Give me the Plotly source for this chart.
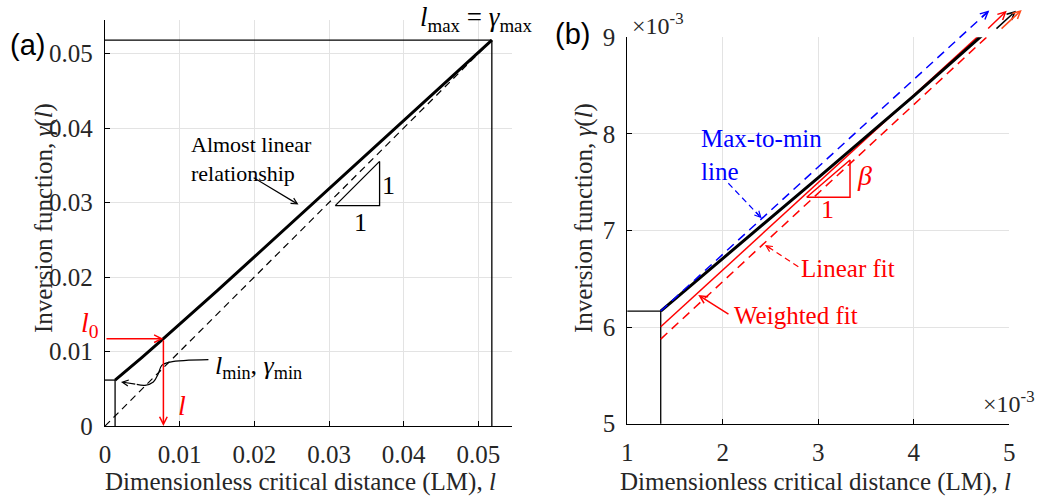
import numpy as np
import plotly.graph_objects as go

W, H = 1048, 497

# ---------------- data (real units) ----------------
L_CURVE = [0.00135, 0.002, 0.003, 0.004, 0.005, 0.00782, 0.010, 0.015, 0.020,
           0.025, 0.030, 0.035, 0.040, 0.045, 0.0518]
G_CURVE = [0.006166, 0.006709, 0.007548, 0.008393, 0.009247, 0.011718, 0.01365,
           0.018153, 0.022706, 0.027279, 0.031861, 0.036444, 0.041027, 0.0456, 0.0518]
L_MIN, G_MIN = 0.00135, 0.006166
L_MAX, G_MAX = 0.0518, 0.0518
L0 = 0.00782
IDENTITY_L = [0.0, 0.0518]
IDENTITY_G = [0.0, 0.0518]
MAXMIN_L = [0.00135, 0.00479]
MAXMIN_G = [0.006166, 0.009278]
WFIT_L = [0.00135, 0.0050]
WFIT_G = [0.006003, 0.009306]
LFIT_L = [0.00135, 0.0050]
LFIT_G = [0.005876, 0.009219]

XTICKS_A = [0, 0.01, 0.02, 0.03, 0.04, 0.05]
XTICKTEXT_A = ["0", "0.01", "0.02", "0.03", "0.04", "0.05"]
YTICKS_A = [0, 0.01, 0.02, 0.03, 0.04, 0.05]
YTICKTEXT_A = ["0", "0.01", "0.02", "0.03", "0.04", "0.05"]
XTICKS_B = [1, 2, 3, 4, 5]
YTICKS_B = [5, 6, 7, 8, 9]
SCALE_B = 1e3

# annotation geometry (real units)
TRI_A_X = [0.03083, 0.03677, 0.03677, 0.03083]
TRI_A_Y = [0.02958, 0.02958, 0.03552, 0.02958]
TRI_B_X = [0.002878, 0.003332, 0.003332, 0.002878]
TRI_B_Y = [0.007344, 0.007344, 0.007730, 0.007344]
LMIN_LEAD_X = [0.01385, 0.00871, 0.00760, 0.00714, 0.00647, 0.00536, 0.00425]
LMIN_LEAD_Y = [0.00890, 0.00858, 0.00814, 0.00702, 0.00590, 0.00546, 0.00559]

SERIF = "Liberation Serif"
SANS = "Liberation Sans"
TXT = "#262626"
GRID = "#e3e3e3"
RED = "#ff0000"
BLUE = "#0000ff"


def sb(v):
    return [x * SCALE_B for x in v]


# domains from pixel layout
XA = [105 / W, 512 / W]
YA = [1 - 426 / H, 1 - 20 / H]
XB = [627.3 / W, 1009.3 / W]
YB = [1 - 423.7 / H, 1 - 37.3 / H]
XB_RANGE = [1, 5]
YB_RANGE = [5, 9]
# overlay (unclipped extension) axes for panel b
XO = [XB[0], 1.0]
YO = [YB[0], 1.0]
XO_RANGE = [1, 1 + 4 * (XO[1] - XO[0]) / (XB[1] - XB[0])]
YO_RANGE = [5, 5 + 4 * (YO[1] - YO[0]) / (YB[1] - YB[0])]

fig = go.Figure()


def line(x, y, xa, ya, color="black", width=1.3, dash=None, shape="linear"):
    fig.add_trace(go.Scatter(x=x, y=y, xaxis=xa, yaxis=ya, mode="lines",
                             line=dict(color=color, width=width, dash=dash, shape=shape),
                             showlegend=False, hoverinfo="skip"))


# ---------- panel (a) ----------
line([0, L_MAX], [G_MAX, G_MAX], "x", "y")
line([L_MAX, L_MAX], [0, G_MAX], "x", "y")
line([0, L_MIN], [G_MIN, G_MIN], "x", "y")
line([L_MIN, L_MIN], [0, G_MIN], "x", "y")
line(IDENTITY_L, IDENTITY_G, "x", "y", width=1.2, dash="7px,5px")
line(L_CURVE, G_CURVE, "x", "y", width=3)
line(TRI_A_X, TRI_A_Y, "x", "y", width=1.3)
line(LMIN_LEAD_X, LMIN_LEAD_Y, "x", "y", width=1.2, shape="spline")

# ---------- panel (b) ----------
line(sb([0, L_MIN]), sb([G_MIN, G_MIN]), "x2", "y2")
line(sb([L_MIN, L_MIN]), sb([0, G_MIN]), "x2", "y2")
line(sb(LFIT_L), sb(LFIT_G), "x2", "y2", color=RED, width=1.5, dash="9px,6px")
line(sb(WFIT_L), sb(WFIT_G), "x2", "y2", color=RED, width=1.5)
line(sb(L_CURVE), sb(G_CURVE), "x2", "y2", width=3)
line(sb(TRI_B_X), sb(TRI_B_Y), "x2", "y2", color=RED, width=1.5)
# max-to-min line drawn on unclipped overlay axes so it runs past the top
line(sb(MAXMIN_L), sb(MAXMIN_G), "x3", "y3", color=BLUE, width=1.5, dash="9px,6px")
# dashed leaders
line([2.058, 2.38], [7.489, 7.155], "x2", "y2", color=BLUE, width=1.2, dash="6px,4px")
line([2.791, 2.47], [6.625, 6.832], "x2", "y2", color=RED, width=1.2, dash="6px,4px")

G0 = float(np.interp(L0, L_CURVE, G_CURVE))

ann = []


def text(t, x, y, xref="paper", yref="paper", size=25, color=TXT, family=SERIF,
         xanchor="center", yanchor="middle", angle=0, align="center"):
    ann.append(dict(text=t, x=x, y=y, xref=xref, yref=yref, showarrow=False,
                    font=dict(family=family, size=size, color=color),
                    xanchor=xanchor, yanchor=yanchor, textangle=angle, align=align))


def arrow(x, y, ax, ay, xref, yref, color="black", width=1.2, head=5):
    ann.append(dict(text="", x=x, y=y, ax=ax, ay=ay, xref=xref, yref=yref,
                    axref=xref, ayref=yref, showarrow=True, arrowhead=head,
                    arrowsize=1, arrowwidth=width, arrowcolor=color, standoff=0,
                    startstandoff=0))


def px(p):
    return p / W


def py(p):
    return 1 - p / H


# panel labels
text("(a)", px(8), py(45), family=SANS, size=29, color="black", xanchor="left")
text("(b)", px(553), py(34), family=SANS, size=29, color="black", xanchor="left")

# axis titles
text("Dimensionless critical distance (LM), <i>l</i>", px(300), py(482))
text("Dimensionless critical distance (LM), <i>l</i>", px(815), py(482))
text("Inversion function, <i>γ</i>(<i>l</i>)", px(44), py(218), angle=-90)
text("Inversion function, <i>γ</i>(<i>l</i>)", px(584), py(218), angle=-90)

# panel (a) annotations
text("<i>l</i><sub>max</sub> = <i>γ</i><sub>max</sub>", 0.0497, 1.0, xref="x",
     size=27, color="black", yanchor="top")
text("<i>l</i><sub>min</sub>, <i>γ</i><sub>min</sub>", 0.01445, 0.0079, xref="x", yref="y",
     size=26, color="black", xanchor="left")
text("<i>l</i><sub>0</sub>", px(101), 0.0136, yref="y", size=28, color=RED, xanchor="right")
text("<i>l</i>", 0.0103, 0.0028, xref="x", yref="y", size=28, color=RED)
text("Almost linear<br>relationship", 0.01125, 0.0359, xref="x", yref="y", size=22,
     color="black", xanchor="left", align="left")
text("1", 0.0342, 0.0273, xref="x", yref="y", size=26, color="black")
text("1", 0.0380, 0.0323, xref="x", yref="y", size=26, color="black")
arrow(L0, G0, 0, G0, "x", "y", color=RED, width=1.5)
arrow(L0, 0, L0, G0, "x", "y", color=RED, width=1.5)
arrow(0.02591, 0.02972, 0.01971, 0.03345, "x", "y")
arrow(0.00214, 0.00592, 0.00425, 0.00559, "x", "y")

# panel (b) annotations
text("×10<sup>-3</sup>", px(630), py(24), size=24, xanchor="left")
text("×10<sup>-3</sup>", px(981), py(402), size=24, xanchor="left")
text("Max-to-min<br>line", px(699), py(155), size=25, color=BLUE, xanchor="left", align="left")
text("Linear fit", px(799), py(268), size=25, color=RED, xanchor="left")
text("Weighted fit", px(732), py(315), size=25, color=RED, xanchor="left")
text("<i>β</i>", 3.48, 7.57, xref="x2", yref="y2", size=28, color=RED)
text("1", 3.1, 7.22, xref="x2", yref="y2", size=26, color=RED)
arrow(2.407, 7.126, 2.33, 7.207, "x2", "y2", color=BLUE)
arrow(2.442, 6.850, 2.52, 6.800, "x2", "y2", color=RED)
arrow(1.743, 6.332, 2.075, 6.125, "x2", "y2", color=RED, width=1.5)
# continuation arrows above the axes
arrow(4.79, 9.278, 4.70, 9.197, "x3", "y3", color=BLUE, width=1.5)
arrow(4.973, 9.275, 4.763, 9.076, "x3", "y3", color=RED, width=1.5)
arrow(5.070, 9.275, 4.850, 9.076, "x3", "y3", color="black", width=1.5)
arrow(5.130, 9.283, 4.903, 9.076, "x3", "y3", color="#ff4a1a", width=1.5)

axis_common = dict(showgrid=True, gridcolor=GRID, gridwidth=1, showline=True,
                   linecolor="black", linewidth=1.3, zeroline=False, ticks="inside",
                   ticklen=5, tickcolor="black", mirror=False,
                   tickfont=dict(family=SERIF, size=25, color=TXT), fixedrange=True)

fig.update_layout(
    width=W, height=H,
    margin=dict(l=0, r=0, t=0, b=0, autoexpand=False),
    paper_bgcolor="white", plot_bgcolor="rgba(0,0,0,0)",
    showlegend=False,
    xaxis=dict(domain=XA, range=[0, 0.0545], tickvals=XTICKS_A, ticktext=XTICKTEXT_A,
               anchor="y", ticklabelstandoff=6, **axis_common),
    yaxis=dict(domain=YA, range=[0, 0.0545], tickvals=YTICKS_A, ticktext=YTICKTEXT_A,
               anchor="x", ticklabelstandoff=6, **axis_common),
    xaxis2=dict(domain=XB, range=XB_RANGE, tickvals=XTICKS_B,
                ticktext=[str(v) for v in XTICKS_B], anchor="y2", ticklabelstandoff=6,
                **axis_common),
    yaxis2=dict(domain=YB, range=YB_RANGE, tickvals=YTICKS_B,
                ticktext=[str(v) for v in YTICKS_B], anchor="x2", ticklabelstandoff=6,
                **axis_common),
    xaxis3=dict(domain=XO, range=XO_RANGE, visible=False, anchor="y3", fixedrange=True),
    yaxis3=dict(domain=YO, range=YO_RANGE, visible=False, anchor="x3", fixedrange=True),
    annotations=ann,
)

fig.write_html("out.html")
